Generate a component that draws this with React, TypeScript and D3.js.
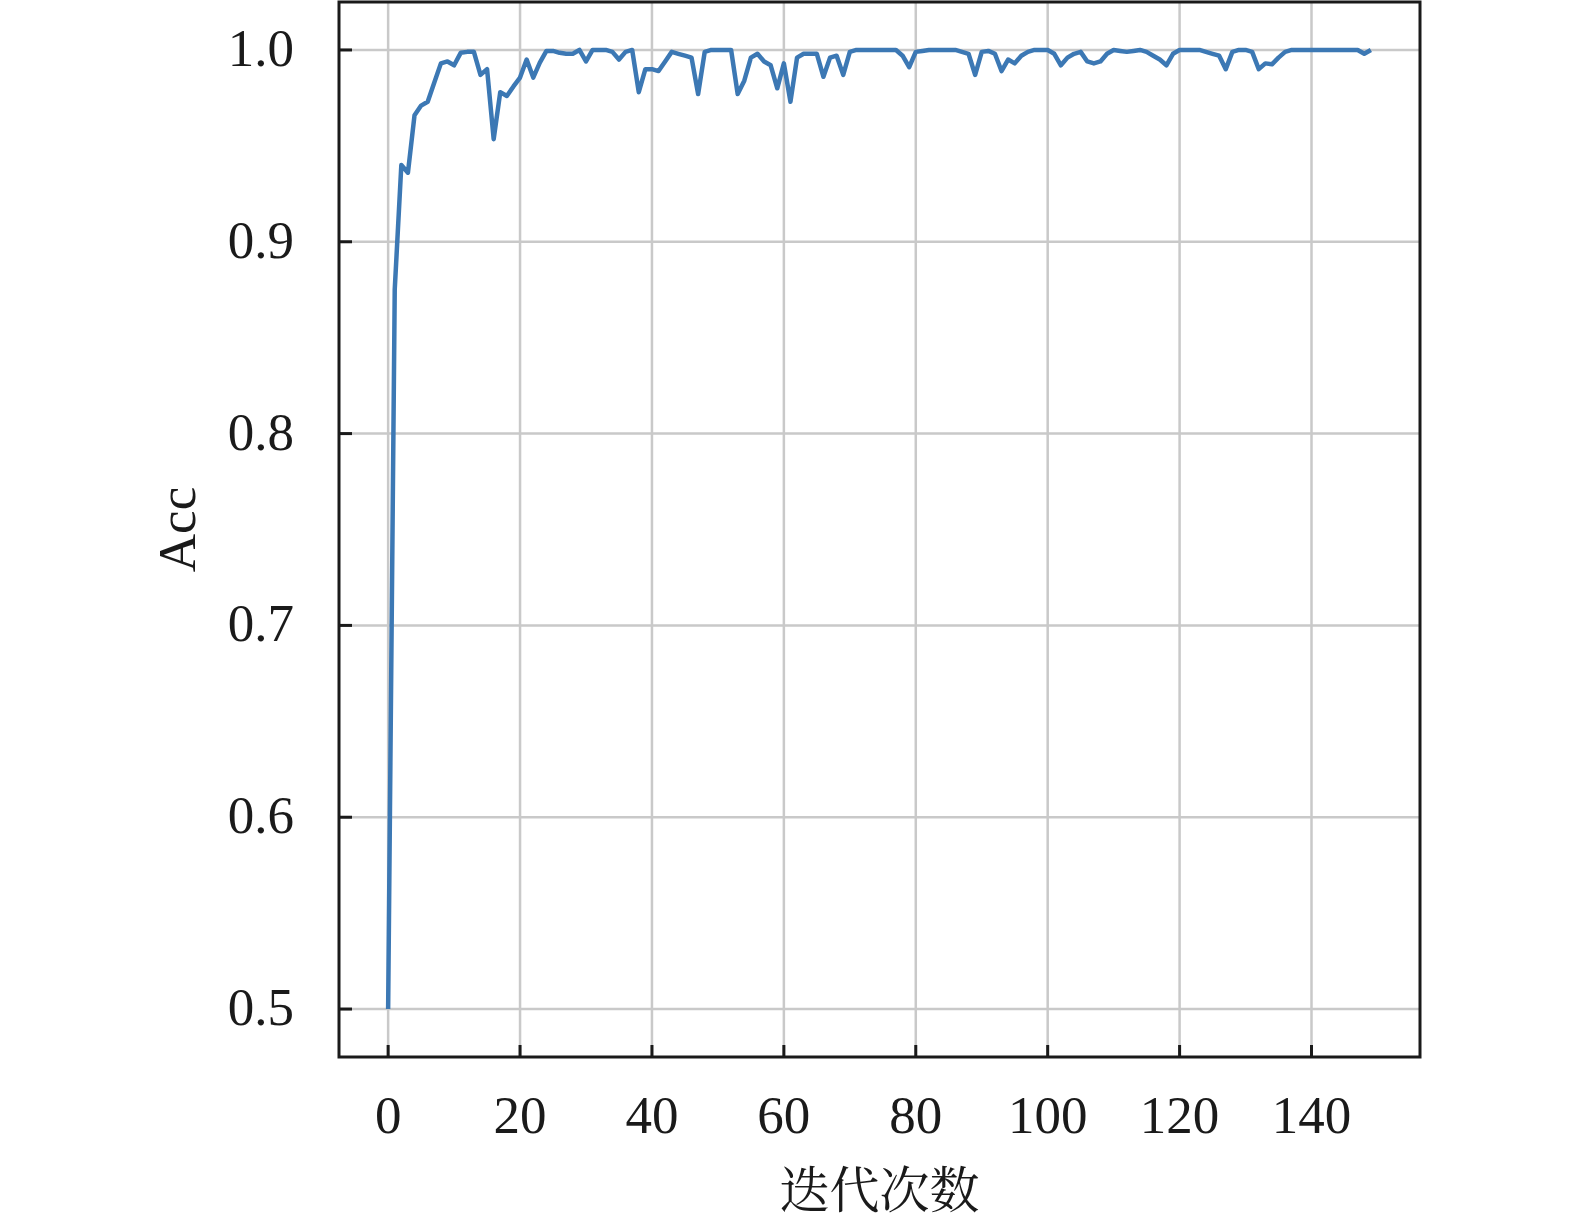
import { useEffect, useRef } from 'react';
import * as d3 from 'd3';

// accuracy per epoch (0..149)
const accValues: number[] = [
    0.500, 0.875, 0.940, 0.936, 0.966, 0.971, 0.973, 0.983, 0.993, 0.994,
    0.992, 0.9985, 0.999, 0.999, 0.987, 0.990, 0.9535, 0.978, 0.976, 0.981,
    0.9856, 0.995, 0.9856, 0.9934, 0.9995, 0.9995, 0.9985, 0.998, 0.998, 1.000,
    0.994, 1.000, 1.000, 1.000, 0.999, 0.995, 0.999, 1.000, 0.978, 0.990,
    0.990, 0.989, 0.994, 0.999, 0.998, 0.997, 0.996, 0.977, 0.999, 1.000,
    1.000, 1.000, 1.000, 0.977, 0.984, 0.996, 0.998, 0.994, 0.992, 0.980,
    0.993, 0.973, 0.996, 0.998, 0.998, 0.998, 0.986, 0.996, 0.997, 0.987,
    0.999, 1.000, 1.000, 1.000, 1.000, 1.000, 1.000, 1.000, 0.997, 0.991,
    0.999, 0.9995, 1.000, 1.000, 1.000, 1.000, 1.000, 0.999, 0.998, 0.987,
    0.999, 0.9995, 0.998, 0.989, 0.995, 0.993, 0.997, 0.999, 1.000, 1.000,
    1.000, 0.998, 0.992, 0.996, 0.998, 0.999, 0.994, 0.993, 0.994, 0.998,
    1.000, 0.9995, 0.999, 0.9995, 1.000, 0.999, 0.997, 0.995, 0.992, 0.998,
    1.000, 1.000, 1.000, 1.000, 0.999, 0.998, 0.997, 0.990, 0.999, 1.000,
    1.000, 0.999, 0.990, 0.993, 0.9925, 0.996, 0.999, 1.000, 1.000, 1.000,
    1.000, 1.000, 1.000, 1.000, 1.000, 1.000, 1.000, 1.000, 0.998, 1.000
];
const xTicks = [0, 20, 40, 60, 80, 100, 120, 140];
const yTicks = [0.5, 0.6, 0.7, 0.8, 0.9, 1.0];
const xLabel = "迭代次数";
const yLabel = "Acc";

export default function App() {
    const svgRef = useRef<SVGSVGElement>(null);

    useEffect(() => {
        if (!svgRef.current) return;
        const svg = d3.select(svgRef.current);
        svg.selectAll("*").remove();

        const width = 1575;
        const height = 1225;
        const left = 339, right = 1420, top = 2, bottom = 1057;

        // matplotlib style 5% margins
        const n = accValues.length - 1;
        const x = d3.scaleLinear().domain([-n * 0.05, n * 1.05]).range([left, right]);
        const y = d3.scaleLinear().domain([0.475, 1.025]).range([bottom, top]);

        svg.attr("width", width).attr("height", height).attr("viewBox", [0, 0, width, height]);
        svg.append("rect").attr("width", width).attr("height", height).attr("fill", "white");

        const serif = "'Liberation Serif', 'Times New Roman', serif";

        // grid
        const grid = svg.append("g").attr("stroke", "#c9c9c9").attr("stroke-width", 2.5);
        grid.selectAll("line.gx")
            .data(xTicks)
            .join("line")
            .attr("class", "gx")
            .attr("x1", d => x(d)).attr("x2", d => x(d))
            .attr("y1", top).attr("y2", bottom);
        grid.selectAll("line.gy")
            .data(yTicks)
            .join("line")
            .attr("class", "gy")
            .attr("x1", left).attr("x2", right)
            .attr("y1", d => y(d)).attr("y2", d => y(d));

        // accuracy curve
        const line = d3.line<number>()
            .x((d, i) => x(i))
            .y(d => y(d));
        svg.append("path")
            .datum(accValues)
            .attr("fill", "none")
            .attr("stroke", "#3c78b4")
            .attr("stroke-width", 4.5)
            .attr("stroke-linejoin", "round")
            .attr("d", line);

        // frame
        svg.append("rect")
            .attr("x", left).attr("y", top)
            .attr("width", right - left).attr("height", bottom - top)
            .attr("fill", "none")
            .attr("stroke", "#1a1a1a")
            .attr("stroke-width", 3);

        // inward ticks
        const ticks = svg.append("g").attr("stroke", "#1a1a1a").attr("stroke-width", 3);
        ticks.selectAll("line.tx")
            .data(xTicks)
            .join("line")
            .attr("class", "tx")
            .attr("x1", d => x(d)).attr("x2", d => x(d))
            .attr("y1", bottom).attr("y2", bottom - 12);
        ticks.selectAll("line.ty")
            .data(yTicks)
            .join("line")
            .attr("class", "ty")
            .attr("x1", left).attr("x2", left + 13)
            .attr("y1", d => y(d)).attr("y2", d => y(d));

        // tick labels
        svg.append("g")
            .selectAll("text")
            .data(xTicks)
            .join("text")
            .attr("x", d => x(d))
            .attr("y", bottom + 76)
            .attr("text-anchor", "middle")
            .style("font-family", serif)
            .style("font-size", "53px")
            .style("fill", "#1a1a1a")
            .text(d => d3.format("d")(d));

        svg.append("g")
            .selectAll("text")
            .data(yTicks)
            .join("text")
            .attr("x", 294)
            .attr("y", d => y(d) + 16)
            .attr("text-anchor", "end")
            .style("font-family", serif)
            .style("font-size", "53px")
            .style("fill", "#1a1a1a")
            .text(d => d3.format(".1f")(d));

        // axis labels
        svg.append("text")
            .attr("transform", `translate(195,${(top + bottom) / 2}) rotate(-90)`)
            .attr("text-anchor", "middle")
            .style("font-family", serif)
            .style("font-size", "53px")
            .style("fill", "#1a1a1a")
            .text(yLabel);

        svg.append("text")
            .attr("x", (left + right) / 2)
            .attr("y", 1208)
            .attr("text-anchor", "middle")
            .style("font-family", "'Noto Serif CJK SC', 'Noto Sans CJK SC', serif")
            .style("font-size", "50px")
            .style("fill", "#1a1a1a")
            .text(xLabel);
    }, []);

    return (
        <div style={{ position: "absolute", top: 0, left: 0 }}>
            <svg ref={svgRef} style={{ display: "block" }}></svg>
        </div>
    );
}
